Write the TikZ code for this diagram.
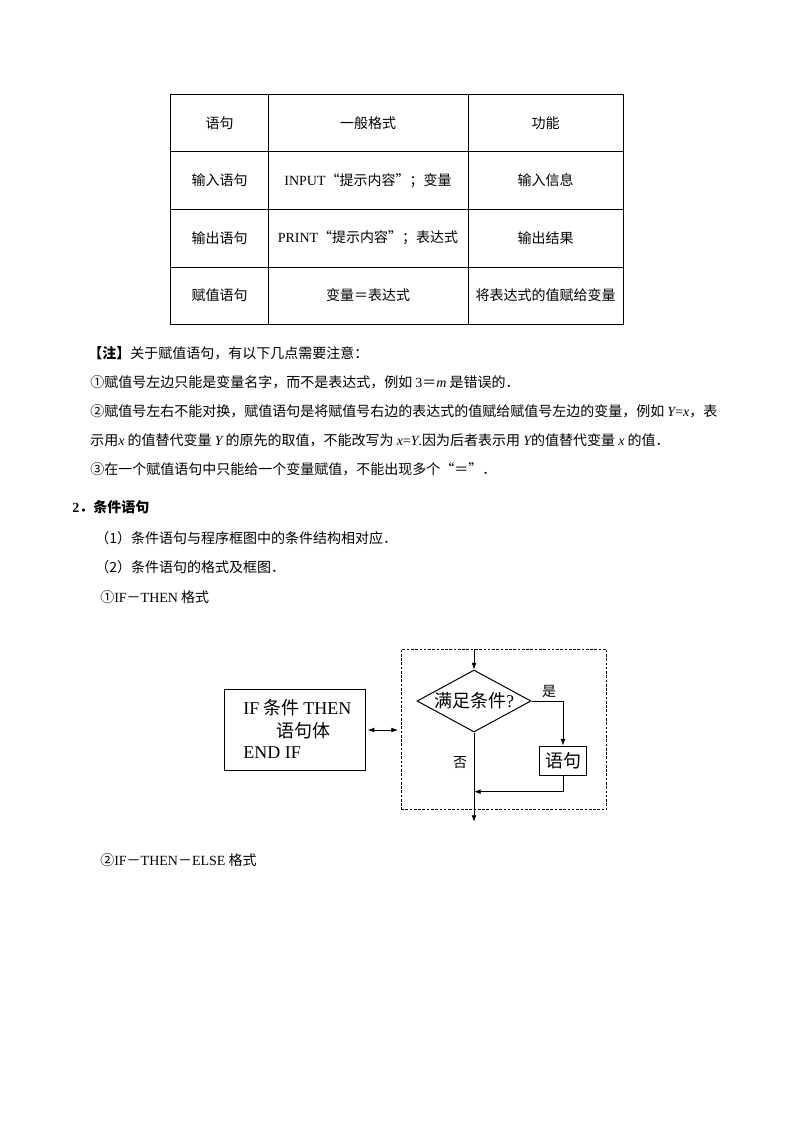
\documentclass[tikz,border=0pt]{standalone}
\usepackage{fontspec}
\setmainfont{Noto Sans CJK SC}
\newfontfamily\tnr{Liberation Serif}
\usetikzlibrary{positioning,shapes.geometric,arrows.meta}
\newcommand{\iv}[1]{{\tnr\itshape #1}}
\tikzset{
    txt/.style={anchor=west,inner sep=0pt,font=\fontsize{10.5pt}{12pt}\selectfont},
    cell/.style={inner sep=0pt,font=\fontsize{10.5pt}{12pt}\selectfont},
    flow/.style={inner sep=0pt,font=\fontsize{13.5pt}{16pt}\selectfont},
    arr/.style={-{Latex[length=5pt,width=3.6pt]},line width=0.6pt},
}

\begin{document}
\begin{tikzpicture}[x=0.75pt,y=-0.75pt]
    \useasboundingbox (0,0) rectangle (794,1123);

    % table
    \draw[line width=0.75pt] (170.5,94.5) rectangle (623,324);
    \foreach \y in {152,209.5,267} {
        \draw[line width=0.75pt] (170.5,\y) -- (623,\y);
    }
    \foreach \x in {268.7,468} {
        \draw[line width=0.75pt] (\x,94.5) -- (\x,324);
    }
    \node[cell] (h1) at (219.7,123) {语句};
    \node[cell] (h2) at (368,123) {一般格式};
    \node[cell] (h3) at (545.5,123) {功能};
    \node[cell] (in1) at (219.7,180.5) {输入语句};
    \node[cell] (in2) at (368,180.5) {{\tnr INPUT}“提示内容”；变量};
    \node[cell] (in3) at (545.5,180.5) {输入信息};
    \node[cell] (out1) at (219.7,238) {输出语句};
    \node[cell] (out2) at (368,238) {{\tnr PRINT}“提示内容”；表达式};
    \node[cell] (out3) at (545.5,238) {输出结果};
    \node[cell] (as1) at (219.7,295.5) {赋值语句};
    \node[cell] (as2) at (368,295.5) {变量＝表达式};
    \node[cell] (as3) at (545.5,295.5) {将表达式的值赋给变量};

    % notes
    \node[txt] (note) at (88,353) {\textbf{【注】}关于赋值语句，有以下几点需要注意：};
    \node[txt] (n1) at (90,382) {①赋值号左边只能是变量名字，而不是表达式，例如 {\tnr 3}＝\iv{m} 是错误的．};
    \node[txt] (n2) at (90,411) {②赋值号左右不能对换，赋值语句是将赋值号右边的表达式的值赋给赋值号左边的变量，例如 \iv{Y}{\tnr =}\iv{x}，表};
    \node[txt] (n2b) at (90,440) {示用\iv{x} 的值替代变量 \iv{Y} 的原先的取值，不能改写为 \iv{x}{\tnr =}\iv{Y}{\tnr .}因为后者表示用 \iv{Y}的值替代变量 \iv{x} 的值．};
    \node[txt] (n3) at (90,469) {③在一个赋值语句中只能给一个变量赋值，不能出现多个“＝”．};

    \node[txt] (sec) at (72,507) {{\tnr\bfseries 2}\textbf{．条件语句}};
    \node[txt] (p1) at (95,538) {（1）条件语句与程序框图中的条件结构相对应．};
    \node[txt] (p2) at (95,567) {（2）条件语句的格式及框图．};
    \node[txt] (fmt1) at (100,597) {①{\tnr IF}－{\tnr THEN} 格式};
    \node[txt] (fmt2) at (100,860) {②{\tnr IF}－{\tnr THEN}－{\tnr ELSE} 格式};

    % IF-THEN flowchart
    \node[draw,line width=0.75pt,minimum width=106.3pt,minimum height=61pt] (ifbox) at (295,730) {};
    \node[flow,anchor=west] (ifl1) at (243,708) {{\tnr IF} 条件 {\tnr THEN}};
    \node[flow] (ifl2) at (303,731) {语句体};
    \node[flow,anchor=west] (ifl3) at (243,753) {{\tnr END IF}};

    \node[draw,line width=0.75pt,dash pattern=on 2pt off 1.2pt,minimum width=154.3pt,minimum height=120pt] (frame) at (504,729.3) {};
    \node[flow,draw,line width=0.75pt,diamond,aspect=1.84,minimum width=85.5pt,minimum height=46.5pt] (cond) at (474,701) {满足条件{\tnr ?}};
    \node[flow,draw,line width=0.75pt,minimum width=35.5pt,minimum height=21.75pt] (stmt) at (563,760.5) {语句};
    \node[cell] (yes) at (549,691) {是};
    \node[cell] (no) at (460,763) {否};

    \coordinate (entry) at (cond.north |- frame.north);
    \coordinate (join) at (474,791.7);
    \coordinate (exit) at (474,822);

    \draw[arr] (entry) -- (cond.north);
    \draw[arr] (cond.east) -| (stmt.north);
    \draw[arr] (stmt.south) |- (join);
    \draw[arr,line width=0.75pt] (cond.south) -- (exit);
    \draw[arr,{Latex[length=5pt,width=3.6pt]}-{Latex[length=5pt,width=3.6pt]},shorten <=1pt,shorten >=2pt] (ifbox.east) -- (ifbox.east -| frame.west);
\end{tikzpicture}
\end{document}
